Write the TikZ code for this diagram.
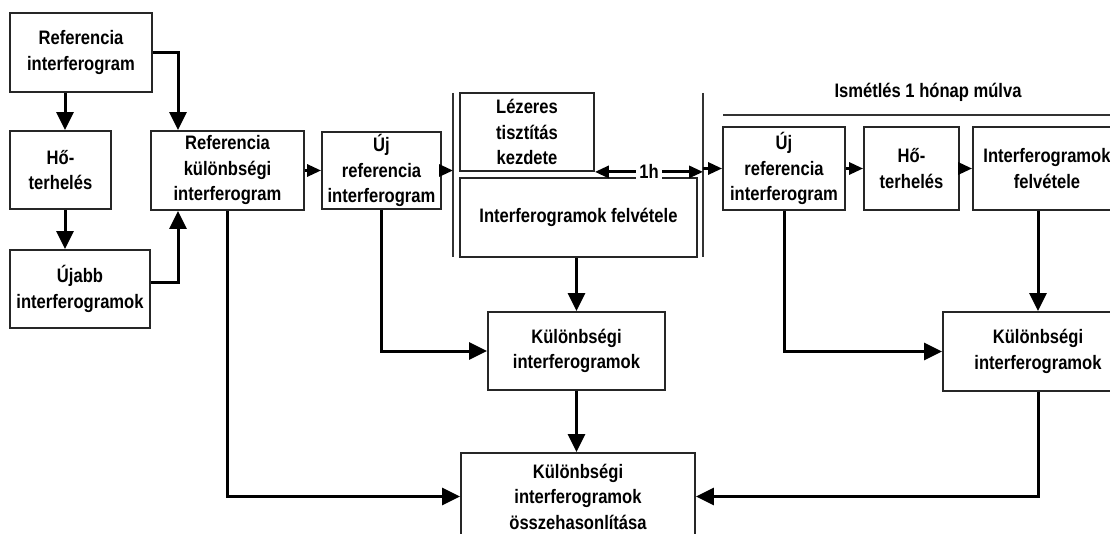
\documentclass[tikz,border=0pt]{standalone}
\usepackage{fontspec}
\setmainfont{Liberation Sans}[FakeStretch=0.85]
\usetikzlibrary{arrows.meta}

\begin{document}
\begin{tikzpicture}[x=1pt, y=-1pt,
        doboz/.style={draw=black!85, line width=1.8pt, align=center, inner sep=0pt,
            font=\bfseries\fontsize{19.5}{25.5}\selectfont, text=black},
        nyil/.style={line width=3pt, -{Triangle[length=18pt,width=17pt]}},
        kisnyil/.style={line width=3pt, -{Triangle[length=14pt,width=12pt]}},
        vonal/.style={line width=1.8pt, draw=black!80},
        felirat/.style={font=\bfseries\fontsize{19.5}{25.5}\selectfont, text=black},
    ]
    \useasboundingbox (0,0) rectangle (1110,534);
    \clip (0,0) rectangle (1110,534);

    % bal oldal
    \node[doboz, minimum width=142pt, minimum height=79pt] (refint) at (81,52.5) {Referencia\\interferogram};
    \node[doboz, minimum width=101pt, minimum height=78pt] (ho1) at (60.5,170) {Hő-\\terhelés};
    \node[doboz, minimum width=140pt, minimum height=78pt] (ujabb) at (80,289) {Újabb\\interferogramok};
    \node[doboz, minimum width=153pt, minimum height=79pt] (refkul) at (227.5,170.5) {Referencia\\különbségi\\interferogram};
    \node[doboz, minimum width=119pt, minimum height=77pt] (ujref) at (381.5,170.5) {Új\\referencia\\interferogram};

    % lezeres tisztitas
    \node[doboz, minimum width=134pt, minimum height=78pt] (lezer) at (527,132) {Lézeres\\tisztítás\\kezdete};
    \node[doboz, minimum width=237pt, minimum height=79pt] (felv) at (578.5,217.5) {Interferogramok felvétele};
    \node[doboz, minimum width=177pt, minimum height=78pt] (kul) at (576.5,351) {Különbségi\\interferogramok};
    \node[doboz, minimum width=234pt, minimum height=87pt] (ossz) at (578,496.5) {Különbségi\\interferogramok\\összehasonlítása};

    % ismetles
    \node[felirat] (ism) at (928,92) {Ismétlés 1 hónap múlva};
    \node[doboz, minimum width=122pt, minimum height=83pt] (ujref2) at (784,168.5) {Új\\referencia\\interferogram};
    \node[doboz, minimum width=95pt, minimum height=83pt] (ho2) at (911.5,168.5) {Hő-\\terhelés};
    \node[doboz, minimum width=148pt, minimum height=83pt] (felv2) at (1047,168.5) {Interferogramok\\felvétele};
    \node[doboz, minimum width=190pt, minimum height=79pt] (kul2) at (1038,351.5) {Különbségi\\interferogramok};

    \coordinate (c1) at (65,0);
    \coordinate (c2) at (178,0);
    \coordinate (elv1) at (453,93);
    \coordinate (elv1b) at (453,257);
    \coordinate (elv2) at (703,93);
    \coordinate (elv2b) at (703,257);
    \coordinate (ism1) at (723,115);
    \coordinate (ism2) at (1115,115);

    \draw[vonal] (elv1) -- (elv1b);
    \draw[vonal] (elv2) -- (elv2b);
    \draw[vonal] (ism1) -- (ism2);

    \draw[nyil] (refint.south -| c1) -- (ho1.north -| c1);
    \draw[nyil] (ho1.south -| c1) -- (ujabb.north -| c1);
    \draw[nyil] (refint.east) -| (refkul.north -| c2);
    \draw[nyil] ([yshift=6pt]ujabb.east) -| (refkul.south -| c2);
    \draw[kisnyil] (refkul.east) -- (ujref.west);
    \draw[kisnyil] (ujref.east) -- (ujref.east -| elv1);
    \draw[line width=3pt, {Triangle[length=14pt,width=12pt]}-{Triangle[length=14pt,width=12pt]}]
        (lezer.south east) -- (lezer.south east -| elv2)
        node[midway, fill=white, inner sep=3pt, felirat] (egyora) {1h};
    \draw[kisnyil] (ujref2.west -| elv2) -- (ujref2.west);
    \draw[kisnyil] (ujref2.east) -- (ho2.west);
    \draw[kisnyil] (ho2.east) -- (felv2.west);

    \draw[nyil] (felv.south -| kul.north) -- (kul.north);
    \draw[nyil] (ujref.south) |- (kul.west);
    \draw[nyil] (kul.south) -- (kul.south |- ossz.north);
    \draw[nyil] (refkul.south) |- (ossz.west);
    \draw[nyil] (felv2.south -| kul2.north) -- (kul2.north);
    \draw[nyil] (ujref2.south) |- (kul2.west);
    \draw[nyil] (kul2.south) |- (ossz.east);
\end{tikzpicture}
\end{document}
